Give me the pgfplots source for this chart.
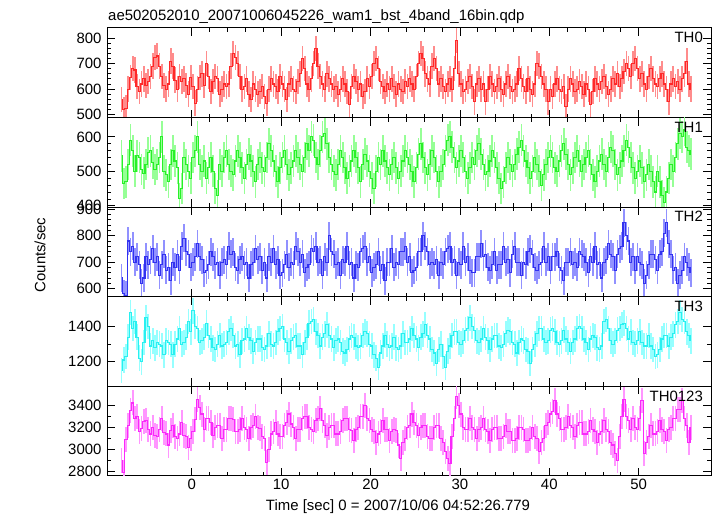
\documentclass[border=0pt]{standalone}
\usepackage{pgfplots}
\usepackage{pgfplotstable}
\pgfplotsset{compat=1.18}
\usepackage{fontspec}
\setmainfont{Liberation Sans}

\definecolor{rD}{RGB}{255,40,40}\definecolor{rL}{RGB}{255,140,140}
\definecolor{gD}{RGB}{40,240,40}\definecolor{gL}{RGB}{150,255,150}
\definecolor{bD}{RGB}{50,50,240}\definecolor{bL}{RGB}{145,145,255}
\definecolor{cD}{RGB}{40,240,240}\definecolor{cL}{RGB}{150,255,255}
\definecolor{mD}{RGB}{250,40,250}\definecolor{mL}{RGB}{255,150,255}

\pgfplotstableread[row sep=\\]{
y\\
560\\ 520\\ 525\\ 600\\ 645\\ 680\\ 675\\ 610\\ 590\\ 620\\ 640\\ 615\\ 630\\ 650\\ 690\\ 725\\
730\\ 690\\ 650\\ 615\\ 600\\ 620\\ 710\\ 690\\ 635\\ 600\\ 650\\ 630\\ 640\\ 615\\ 580\\ 645\\
610\\ 545\\ 600\\ 645\\ 660\\ 615\\ 700\\ 650\\ 590\\ 630\\ 650\\ 640\\ 580\\ 600\\ 620\\ 610\\
620\\ 690\\ 740\\ 725\\ 700\\ 650\\ 600\\ 610\\ 640\\ 580\\ 560\\ 620\\ 600\\ 580\\ 590\\ 610\\
570\\ 545\\ 600\\ 640\\ 620\\ 610\\ 590\\ 650\\ 620\\ 600\\ 560\\ 620\\ 640\\ 600\\ 590\\ 630\\
660\\ 720\\ 680\\ 620\\ 600\\ 640\\ 700\\ 760\\ 690\\ 650\\ 620\\ 600\\ 660\\ 640\\ 620\\ 600\\
610\\ 580\\ 600\\ 640\\ 620\\ 590\\ 540\\ 610\\ 650\\ 630\\ 600\\ 620\\ 570\\ 590\\ 640\\ 610\\
650\\ 700\\ 720\\ 680\\ 630\\ 610\\ 590\\ 620\\ 600\\ 640\\ 610\\ 580\\ 620\\ 600\\ 590\\ 630\\
610\\ 640\\ 620\\ 600\\ 650\\ 700\\ 740\\ 720\\ 660\\ 640\\ 620\\ 690\\ 720\\ 680\\ 620\\ 640\\
610\\ 590\\ 620\\ 640\\ 600\\ 680\\ 790\\ 660\\ 620\\ 590\\ 600\\ 630\\ 650\\ 610\\ 550\\ 620\\
640\\ 600\\ 620\\ 550\\ 600\\ 650\\ 620\\ 590\\ 610\\ 640\\ 600\\ 580\\ 620\\ 650\\ 610\\ 590\\
600\\ 620\\ 680\\ 640\\ 610\\ 590\\ 640\\ 600\\ 580\\ 620\\ 700\\ 690\\ 650\\ 620\\ 600\\ 550\\
600\\ 570\\ 620\\ 640\\ 600\\ 590\\ 610\\ 530\\ 600\\ 640\\ 620\\ 590\\ 600\\ 630\\ 610\\ 580\\
620\\ 600\\ 540\\ 590\\ 640\\ 620\\ 600\\ 630\\ 650\\ 610\\ 580\\ 600\\ 640\\ 620\\ 660\\ 610\\
640\\ 670\\ 700\\ 680\\ 650\\ 700\\ 720\\ 680\\ 640\\ 660\\ 620\\ 600\\ 650\\ 680\\ 640\\ 620\\
610\\ 640\\ 660\\ 620\\ 600\\ 550\\ 620\\ 640\\ 610\\ 630\\ 600\\ 640\\ 660\\ 710\\ 620\\ 600\\
}\thzero

\pgfplotstableread[row sep=\\]{
y\\
545\\ 465\\ 470\\ 520\\ 590\\ 560\\ 500\\ 545\\ 540\\ 505\\ 495\\ 520\\ 555\\ 560\\ 525\\ 505\\
520\\ 540\\ 600\\ 500\\ 490\\ 470\\ 520\\ 560\\ 530\\ 510\\ 420\\ 450\\ 540\\ 520\\ 500\\ 480\\
540\\ 560\\ 600\\ 520\\ 500\\ 530\\ 480\\ 510\\ 540\\ 500\\ 450\\ 430\\ 520\\ 500\\ 540\\ 560\\
520\\ 500\\ 490\\ 530\\ 560\\ 540\\ 510\\ 480\\ 520\\ 550\\ 530\\ 500\\ 470\\ 520\\ 540\\ 510\\
500\\ 540\\ 580\\ 560\\ 530\\ 500\\ 470\\ 510\\ 540\\ 560\\ 520\\ 490\\ 510\\ 530\\ 560\\ 540\\
520\\ 500\\ 540\\ 580\\ 560\\ 600\\ 590\\ 540\\ 520\\ 560\\ 600\\ 610\\ 580\\ 540\\ 520\\ 500\\
490\\ 520\\ 560\\ 540\\ 510\\ 480\\ 500\\ 530\\ 560\\ 540\\ 510\\ 470\\ 520\\ 550\\ 530\\ 500\\
480\\ 450\\ 500\\ 540\\ 520\\ 560\\ 530\\ 510\\ 490\\ 520\\ 540\\ 510\\ 480\\ 500\\ 530\\ 560\\
540\\ 520\\ 500\\ 470\\ 510\\ 550\\ 580\\ 540\\ 510\\ 490\\ 520\\ 560\\ 540\\ 500\\ 470\\ 500\\
520\\ 560\\ 590\\ 600\\ 570\\ 540\\ 510\\ 530\\ 560\\ 540\\ 500\\ 480\\ 510\\ 540\\ 520\\ 560\\
580\\ 550\\ 520\\ 490\\ 500\\ 530\\ 560\\ 540\\ 510\\ 480\\ 450\\ 470\\ 510\\ 540\\ 520\\ 500\\
520\\ 550\\ 570\\ 590\\ 560\\ 530\\ 510\\ 480\\ 500\\ 540\\ 520\\ 500\\ 460\\ 490\\ 520\\ 540\\
560\\ 540\\ 510\\ 500\\ 530\\ 560\\ 580\\ 550\\ 520\\ 490\\ 510\\ 540\\ 560\\ 530\\ 500\\ 520\\
540\\ 560\\ 520\\ 490\\ 470\\ 500\\ 530\\ 550\\ 520\\ 500\\ 540\\ 570\\ 560\\ 520\\ 490\\ 510\\
530\\ 560\\ 590\\ 570\\ 540\\ 510\\ 480\\ 500\\ 530\\ 510\\ 470\\ 490\\ 520\\ 500\\ 470\\ 440\\
500\\ 470\\ 430\\ 410\\ 440\\ 480\\ 520\\ 500\\ 540\\ 580\\ 610\\ 600\\ 620\\ 570\\ 560\\ 550\\
}\thone

\pgfplotstableread[row sep=\\]{
y\\
640\\ 580\\ 575\\ 780\\ 740\\ 760\\ 700\\ 720\\ 690\\ 620\\ 640\\ 720\\ 690\\ 710\\ 750\\ 700\\
720\\ 650\\ 690\\ 730\\ 670\\ 680\\ 630\\ 700\\ 680\\ 730\\ 670\\ 760\\ 790\\ 740\\ 730\\ 680\\
700\\ 720\\ 770\\ 720\\ 710\\ 660\\ 670\\ 690\\ 740\\ 720\\ 690\\ 700\\ 650\\ 700\\ 710\\ 690\\
760\\ 730\\ 740\\ 680\\ 670\\ 710\\ 720\\ 690\\ 700\\ 640\\ 690\\ 700\\ 750\\ 710\\ 720\\ 670\\
700\\ 640\\ 720\\ 700\\ 750\\ 690\\ 710\\ 650\\ 660\\ 690\\ 730\\ 680\\ 700\\ 690\\ 760\\ 740\\
700\\ 730\\ 660\\ 680\\ 690\\ 750\\ 740\\ 760\\ 700\\ 710\\ 650\\ 720\\ 700\\ 800\\ 740\\ 730\\
690\\ 700\\ 650\\ 710\\ 700\\ 760\\ 690\\ 700\\ 640\\ 690\\ 680\\ 740\\ 750\\ 760\\ 700\\ 720\\
660\\ 680\\ 690\\ 740\\ 670\\ 690\\ 630\\ 700\\ 700\\ 750\\ 680\\ 700\\ 690\\ 740\\ 740\\ 760\\
700\\ 720\\ 660\\ 670\\ 680\\ 740\\ 740\\ 800\\ 760\\ 740\\ 690\\ 700\\ 690\\ 710\\ 650\\ 700\\
690\\ 740\\ 750\\ 760\\ 700\\ 710\\ 650\\ 700\\ 690\\ 760\\ 700\\ 720\\ 670\\ 660\\ 660\\ 720\\
720\\ 770\\ 720\\ 730\\ 680\\ 670\\ 690\\ 740\\ 670\\ 690\\ 690\\ 760\\ 700\\ 710\\ 660\\ 730\\
760\\ 700\\ 700\\ 650\\ 700\\ 690\\ 740\\ 750\\ 730\\ 680\\ 670\\ 690\\ 700\\ 760\\ 700\\ 720\\
670\\ 720\\ 720\\ 740\\ 680\\ 670\\ 630\\ 700\\ 700\\ 740\\ 690\\ 700\\ 680\\ 740\\ 730\\ 720\\
700\\ 660\\ 720\\ 700\\ 760\\ 690\\ 700\\ 640\\ 700\\ 710\\ 770\\ 730\\ 720\\ 670\\ 730\\ 750\\
760\\ 850\\ 800\\ 780\\ 700\\ 720\\ 670\\ 720\\ 700\\ 690\\ 620\\ 650\\ 690\\ 730\\ 730\\ 710\\
670\\ 730\\ 740\\ 810\\ 850\\ 770\\ 730\\ 670\\ 680\\ 620\\ 650\\ 670\\ 720\\ 700\\ 680\\ 660\\
}\thtwo

\pgfplotstableread[row sep=\\]{
y\\
1150\\ 1210\\ 1230\\ 1340\\ 1480\\ 1390\\ 1430\\ 1340\\ 1220\\ 1200\\ 1310\\ 1450\\ 1400\\ 1290\\ 1320\\ 1280\\
1310\\ 1300\\ 1290\\ 1240\\ 1320\\ 1310\\ 1300\\ 1240\\ 1300\\ 1330\\ 1390\\ 1300\\ 1310\\ 1340\\ 1430\\ 1370\\
1490\\ 1400\\ 1390\\ 1310\\ 1320\\ 1340\\ 1420\\ 1350\\ 1330\\ 1280\\ 1270\\ 1300\\ 1350\\ 1290\\ 1300\\ 1310\\
1370\\ 1390\\ 1350\\ 1290\\ 1300\\ 1240\\ 1320\\ 1330\\ 1390\\ 1340\\ 1320\\ 1260\\ 1310\\ 1330\\ 1330\\ 1280\\
1270\\ 1290\\ 1360\\ 1300\\ 1290\\ 1310\\ 1370\\ 1390\\ 1400\\ 1330\\ 1310\\ 1260\\ 1320\\ 1340\\ 1350\\ 1290\\
1290\\ 1240\\ 1310\\ 1340\\ 1420\\ 1430\\ 1440\\ 1370\\ 1350\\ 1290\\ 1340\\ 1360\\ 1410\\ 1350\\ 1330\\ 1280\\
1320\\ 1330\\ 1310\\ 1260\\ 1250\\ 1270\\ 1330\\ 1350\\ 1340\\ 1290\\ 1280\\ 1290\\ 1350\\ 1370\\ 1360\\ 1300\\
1290\\ 1240\\ 1220\\ 1170\\ 1250\\ 1290\\ 1350\\ 1300\\ 1280\\ 1290\\ 1340\\ 1280\\ 1270\\ 1290\\ 1360\\ 1310\\
1310\\ 1330\\ 1390\\ 1350\\ 1330\\ 1280\\ 1340\\ 1360\\ 1410\\ 1350\\ 1330\\ 1270\\ 1250\\ 1190\\ 1270\\ 1300\\
1230\\ 1170\\ 1260\\ 1290\\ 1350\\ 1370\\ 1370\\ 1310\\ 1300\\ 1320\\ 1380\\ 1390\\ 1450\\ 1400\\ 1380\\ 1320\\
1310\\ 1330\\ 1390\\ 1340\\ 1320\\ 1270\\ 1330\\ 1350\\ 1350\\ 1290\\ 1280\\ 1300\\ 1360\\ 1380\\ 1370\\ 1310\\
1300\\ 1250\\ 1310\\ 1330\\ 1320\\ 1270\\ 1260\\ 1190\\ 1270\\ 1300\\ 1360\\ 1390\\ 1390\\ 1330\\ 1310\\ 1320\\
1380\\ 1390\\ 1370\\ 1310\\ 1300\\ 1320\\ 1380\\ 1330\\ 1310\\ 1260\\ 1310\\ 1330\\ 1390\\ 1400\\ 1390\\ 1330\\
1310\\ 1270\\ 1330\\ 1350\\ 1340\\ 1280\\ 1270\\ 1290\\ 1430\\ 1440\\ 1390\\ 1320\\ 1300\\ 1320\\ 1380\\ 1390\\
1410\\ 1420\\ 1390\\ 1330\\ 1370\\ 1310\\ 1300\\ 1320\\ 1370\\ 1310\\ 1290\\ 1290\\ 1350\\ 1290\\ 1270\\ 1230\\
1240\\ 1270\\ 1330\\ 1350\\ 1350\\ 1290\\ 1340\\ 1360\\ 1410\\ 1430\\ 1480\\ 1440\\ 1430\\ 1370\\ 1350\\ 1320\\
}\ththree

\pgfplotstableread[row sep=\\]{
y\\
2900\\ 2790\\ 3090\\ 3220\\ 3350\\ 3420\\ 3280\\ 3300\\ 3160\\ 3190\\ 3250\\ 3260\\ 3180\\ 3140\\ 3200\\ 3130\\
3120\\ 3180\\ 3280\\ 3150\\ 3140\\ 3040\\ 3170\\ 3220\\ 3120\\ 3100\\ 3140\\ 3240\\ 3130\\ 3120\\ 3020\\ 3100\\
3160\\ 3270\\ 3450\\ 3380\\ 3320\\ 3180\\ 3280\\ 3280\\ 3240\\ 3130\\ 3200\\ 3220\\ 3220\\ 3100\\ 3180\\ 3180\\
3280\\ 3280\\ 3270\\ 3160\\ 3160\\ 3180\\ 3280\\ 3200\\ 3180\\ 3100\\ 3200\\ 3220\\ 3300\\ 3200\\ 3190\\ 3120\\
3100\\ 2880\\ 3000\\ 3140\\ 3160\\ 3240\\ 3140\\ 3120\\ 3120\\ 3220\\ 3240\\ 3320\\ 3230\\ 3200\\ 3100\\ 3180\\
3180\\ 3280\\ 3300\\ 3300\\ 3200\\ 3180\\ 3160\\ 3260\\ 3280\\ 3370\\ 3260\\ 3220\\ 3130\\ 3200\\ 3220\\ 3220\\
3140\\ 3140\\ 3160\\ 3260\\ 3280\\ 3280\\ 3180\\ 3170\\ 3080\\ 3180\\ 3200\\ 3300\\ 3300\\ 3400\\ 3280\\ 3260\\
3180\\ 3160\\ 3060\\ 3140\\ 3160\\ 3260\\ 3180\\ 3180\\ 3080\\ 3160\\ 3180\\ 3170\\ 3040\\ 2920\\ 3060\\ 3100\\
3200\\ 3220\\ 3320\\ 3240\\ 3220\\ 3130\\ 3200\\ 3220\\ 3220\\ 3120\\ 3100\\ 3100\\ 3200\\ 3220\\ 3220\\ 3100\\
3060\\ 2980\\ 2920\\ 2870\\ 3120\\ 3280\\ 3480\\ 3400\\ 3320\\ 3200\\ 3180\\ 3180\\ 3280\\ 3200\\ 3180\\ 3100\\
3180\\ 3200\\ 3280\\ 3180\\ 3160\\ 3080\\ 3180\\ 3200\\ 3200\\ 3100\\ 3100\\ 3120\\ 3220\\ 3160\\ 3160\\ 3080\\
3080\\ 3100\\ 3200\\ 3200\\ 3180\\ 3080\\ 3080\\ 3100\\ 3200\\ 3120\\ 3100\\ 2980\\ 3060\\ 3100\\ 3220\\ 3240\\
3320\\ 3340\\ 3440\\ 3320\\ 3280\\ 3180\\ 3180\\ 3200\\ 3300\\ 3220\\ 3200\\ 3120\\ 3220\\ 3240\\ 3240\\ 3140\\
3140\\ 3160\\ 3260\\ 3180\\ 3160\\ 3060\\ 3140\\ 3160\\ 3260\\ 3180\\ 3160\\ 3060\\ 3040\\ 2960\\ 2900\\ 3120\\
3300\\ 3450\\ 3300\\ 3260\\ 3180\\ 3280\\ 3200\\ 3180\\ 3280\\ 3440\\ 2960\\ 3060\\ 3120\\ 3220\\ 3140\\ 3140\\
3160\\ 3260\\ 3180\\ 3160\\ 3080\\ 3180\\ 3200\\ 3280\\ 3280\\ 3360\\ 3360\\ 3440\\ 3280\\ 3220\\ 3060\\ 3200\\
}\thsum

\pgfplotsset{
  panel/.style={
    scale only axis, width=604bp, height=89.6bp, anchor=south west,
    xmin=-9.5, xmax=58.1,
    xtick={0,10,...,50}, minor x tick num=4,
    tick align=inside, xtick pos=both, ytick pos=both,
    xticklabel pos=lower, yticklabel pos=left,
    major tick length=8bp, minor tick length=4bp,
    tick style={black, line width=0.8pt},
    axis line style={line width=1pt},
    font=\fontsize{15}{18}\selectfont,
    /pgf/number format/assume math mode=true,
    /pgf/number format/1000 sep={},
    yticklabel style={xshift=-2bp},
    clip=true,
  },
  errs/.style n args={2}{draw=none, forget plot,
    error bars/.cd, y dir=both, y fixed=#1, error mark=none,
    error bar style={draw=#2, line width=1.7pt, solid}},
  steps/.style={const plot mark mid, draw=#1, line width=1.1pt, mark=none},
}

\begin{document}
\begin{tikzpicture}[x=1bp,y=1bp]
\useasboundingbox (0,0) rectangle (717,516);

\begin{axis}[panel, at={(107bp,398.4bp)}, ymin=488, ymax=840, ytick={500,600,700,800}, minor y tick num=4, xticklabels={}]
\addplot[errs={50}{rL}] table[x expr=\coordindex*0.25-7.875, y=y] {\thzero};
\addplot[steps=rD] table[x expr=\coordindex*0.25-7.875, y=y] {\thzero};
\node[anchor=north east, inner sep=0pt] at ([xshift=-8bp,yshift=-4bp]rel axis cs:1,1) {TH0};
\end{axis}

\begin{axis}[panel, at={(107bp,308.8bp)}, ymin=396, ymax=656, ytick={400,500,600}, minor y tick num=4, xticklabels={}]
\addplot[errs={46}{gL}] table[x expr=\coordindex*0.25-7.875, y=y] {\thone};
\addplot[steps=gD] table[x expr=\coordindex*0.25-7.875, y=y] {\thone};
\node[anchor=north east, inner sep=0pt] at ([xshift=-8bp,yshift=-4bp]rel axis cs:1,1) {TH1};
\end{axis}

\begin{axis}[panel, at={(107bp,219.2bp)}, ymin=569, ymax=908, ytick={600,700,800,900}, minor y tick num=4, xticklabels={}]
\addplot[errs={53}{bL}] table[x expr=\coordindex*0.25-7.875, y=y] {\thtwo};
\addplot[steps=bD] table[x expr=\coordindex*0.25-7.875, y=y] {\thtwo};
\node[anchor=north east, inner sep=0pt] at ([xshift=-8bp,yshift=-4bp]rel axis cs:1,1) {TH2};
\end{axis}

\begin{axis}[panel, at={(107bp,129.6bp)}, ymin=1060, ymax=1570, ytick={1200,1400}, minor y tick num=1, xticklabels={}]
\addplot[errs={73}{cL}] table[x expr=\coordindex*0.25-7.875, y=y] {\ththree};
\addplot[steps=cD] table[x expr=\coordindex*0.25-7.875, y=y] {\ththree};
\node[anchor=north east, inner sep=0pt] at ([xshift=-8bp,yshift=-4bp]rel axis cs:1,1) {TH3};
\end{axis}

\begin{axis}[panel, at={(107bp,40bp)}, ymin=2760, ymax=3570, ytick={2800,3000,3200,3400}, minor y tick num=1]
\addplot[errs={113}{mL}] table[x expr=\coordindex*0.25-7.875, y=y] {\thsum};
\addplot[steps=mD] table[x expr=\coordindex*0.25-7.875, y=y] {\thsum};
\node[anchor=north east, inner sep=0pt] at ([xshift=-8bp,yshift=-4bp]rel axis cs:1,1) {TH0123};
\end{axis}

\node[anchor=base west, inner sep=0pt, font=\fontsize{15}{18}\selectfont] at (108,495.3) {ae502052010\_20071006045226\_wam1\_bst\_4band\_16bin.qdp};
\node[anchor=base, inner sep=0pt, font=\fontsize{15}{18}\selectfont] at (398,5) {Time [sec] 0 = 2007/10/06 04:52:26.779};
\node[rotate=90, inner sep=0pt, font=\fontsize{15}{18}\selectfont] at (40,261) {Counts/sec};
\end{tikzpicture}
\end{document}
